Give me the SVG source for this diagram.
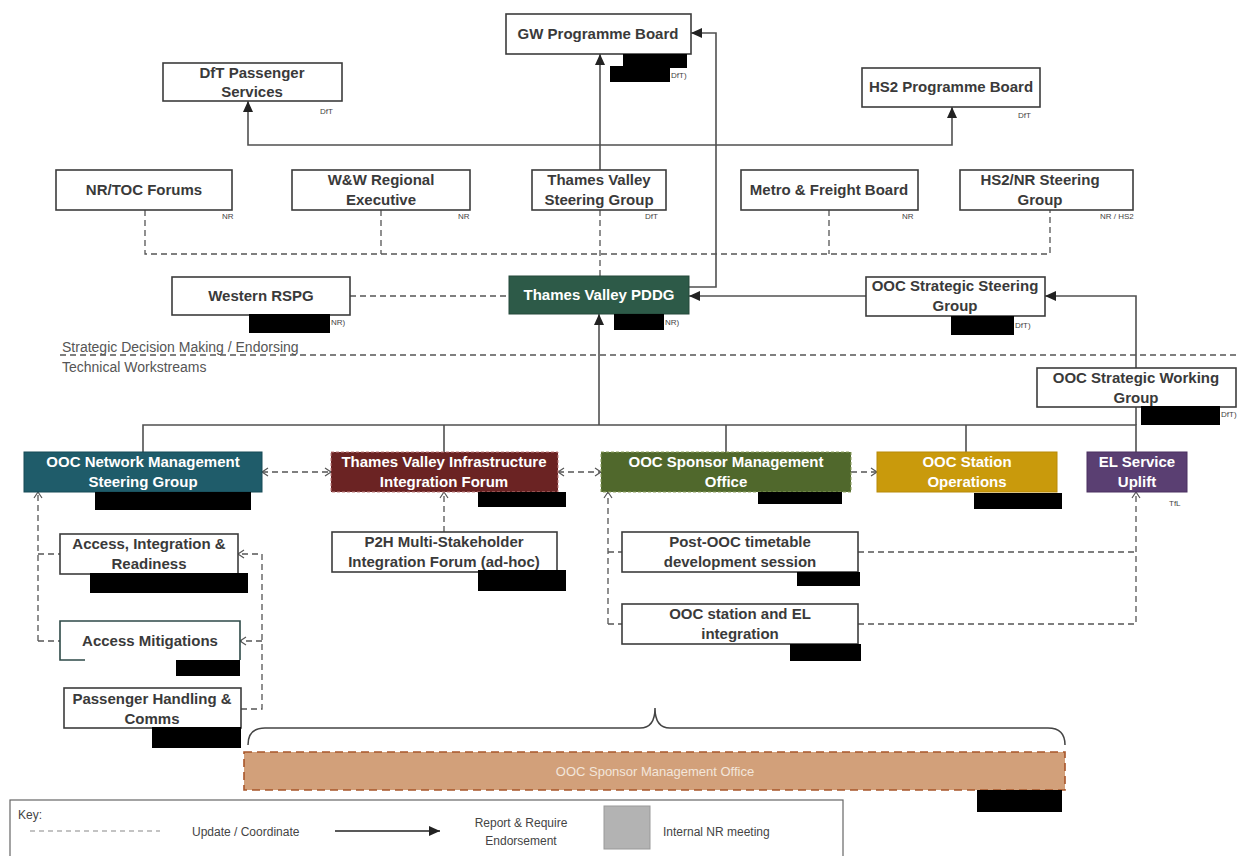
<svg xmlns="http://www.w3.org/2000/svg" width="1239" height="856" viewBox="0 0 1239 856">
<style>
.box{fill:#fff;stroke:#3c3c3c;stroke-width:1.6}
.t{font-family:"Liberation Sans",Arial,sans-serif;font-weight:bold;font-size:15px;fill:#3a3a3a;text-anchor:middle}
.tw{font-family:"Liberation Sans",Arial,sans-serif;font-weight:bold;font-size:15px;fill:#fff;text-anchor:middle}
.s{font-family:"Liberation Sans",Arial,sans-serif;font-size:8px;fill:#444}
.n{font-family:"Liberation Sans",Arial,sans-serif;font-size:14px;fill:#555}
.k{font-family:"Liberation Sans",Arial,sans-serif;font-size:12px;fill:#444}
.red{fill:#000}
.ln{fill:none;stroke:#505050;stroke-width:1.6}
.dl{fill:none;stroke:#555;stroke-width:1.3;stroke-dasharray:6,4}
</style>
<defs>
<marker id="arr" markerUnits="userSpaceOnUse" markerWidth="12" markerHeight="12" refX="11" refY="6" orient="auto">
<path d="M0,1 L11,6 L0,11 Z" fill="#222"/>
</marker>
<marker id="chev" markerUnits="userSpaceOnUse" markerWidth="10" markerHeight="10" refX="8" refY="5" orient="auto-start-reverse">
<path d="M2,1 L8,5 L2,9" fill="none" stroke="#555" stroke-width="1.2"/>
</marker>
</defs>

<g id="connectors">
<path class="ln" d="M600,170 V54" marker-end="url(#arr)"/>
<path class="ln" d="M689,287 H716 V33 H691" marker-end="url(#arr)"/>
<path class="ln" d="M600,145 H248 V101" marker-end="url(#arr)"/>
<path class="ln" d="M600,145 H952 V107" marker-end="url(#arr)"/>
<path class="dl" d="M145,210 V254 H1050 V210"/>
<path class="dl" d="M381,210 V254"/>
<path class="dl" d="M829,210 V254"/>
<path class="dl" d="M600,210 V276"/>
<path class="dl" d="M350,296 H509"/>
<path class="ln" d="M866,296 H689" marker-end="url(#arr)"/>
<path class="ln" d="M1136,368 V296 H1045" marker-end="url(#arr)"/>
<path class="ln" d="M599,425 V314" marker-end="url(#arr)"/>
<path class="ln" d="M143,452 V425 H1136 V452"/>
<path class="ln" d="M1136,407 V425"/>
<path class="ln" d="M444,425 V452"/>
<path class="ln" d="M726,425 V452"/>
<path class="ln" d="M966,425 V452"/>
<path class="dl" d="M262,472 H331" marker-start="url(#chev)" marker-end="url(#chev)"/>
<path class="dl" d="M558,472 H601" marker-start="url(#chev)" marker-end="url(#chev)"/>
<path class="dl" d="M851,472 H877" marker-end="url(#chev)"/>
<path class="dl" d="M38,641 V492" marker-end="url(#chev)"/>
<path class="dl" d="M38,554 H60"/>
<path class="dl" d="M38,641 H60"/>
<path class="dl" d="M241,709 H262 V554 H238" marker-end="url(#chev)"/>
<path class="dl" d="M262,641 H240" marker-end="url(#chev)"/>
<path class="dl" d="M444,532 V492" marker-end="url(#chev)"/>
<path class="dl" d="M608,624 V492" marker-end="url(#chev)"/>
<path class="dl" d="M608,552 H622"/>
<path class="dl" d="M608,624 H622"/>
<path class="dl" d="M858,552 H1136"/>
<path class="dl" d="M858,624 H1136 V492" marker-end="url(#chev)"/>
<path class="dl" d="M60,355 H1239"/>
<path d="M248,745 Q248,728 265,728 H640 Q655,728 655,708 Q655,728 670,728 H1048 Q1065,728 1065,745" fill="none" stroke="#444" stroke-width="1.5"/>
</g>

<g id="gw">
<rect class="box" x="506" y="14" width="185" height="40"/>
<text class="t" x="598" y="39">GW Programme Board</text>
<rect class="red" x="623" y="54" width="64" height="14"/>
<rect class="red" x="610" y="66" width="60" height="16"/>
<text class="s" x="671" y="78">DfT)</text>
</g>
<g id="dftps">
<rect class="box" x="163" y="63" width="179" height="38"/>
<text class="t" x="252" y="78">DfT Passenger</text>
<text class="t" x="252" y="97">Services</text>
<text class="s" x="320" y="114">DfT</text>
</g>
<g id="hs2pb">
<rect class="box" x="862" y="68" width="178" height="39"/>
<text class="t" x="951" y="92">HS2 Programme Board</text>
<text class="s" x="1018" y="118">DfT</text>
</g>
<g id="nrtoc">
<rect class="box" x="56" y="170" width="176" height="40"/>
<text class="t" x="144" y="195">NR/TOC Forums</text>
<text class="s" x="222" y="219">NR</text>
</g>
<g id="ww">
<rect class="box" x="292" y="170" width="178" height="40"/>
<text class="t" x="381" y="185">W&amp;W Regional</text>
<text class="t" x="381" y="205">Executive</text>
<text class="s" x="458" y="219">NR</text>
</g>
<g id="tvsg">
<rect class="box" x="532" y="170" width="134" height="40"/>
<text class="t" x="599" y="185">Thames Valley</text>
<text class="t" x="599" y="205">Steering Group</text>
<text class="s" x="645" y="219">DfT</text>
</g>
<g id="mfb">
<rect class="box" x="741" y="170" width="177" height="40"/>
<text class="t" x="829" y="195">Metro &amp; Freight Board</text>
<text class="s" x="902" y="219">NR</text>
</g>
<g id="hs2nr">
<rect class="box" x="960" y="170" width="173" height="40"/>
<text class="t" x="1040" y="185">HS2/NR Steering</text>
<text class="t" x="1040" y="205">Group</text>
<text class="s" x="1100" y="219">NR / HS2</text>
</g>
<g id="wrspg">
<rect class="box" x="172" y="277" width="178" height="38"/>
<text class="t" x="261" y="301">Western RSPG</text>
<rect class="red" x="249" y="314" width="81" height="19"/>
<text class="s" x="331" y="325">NR)</text>
</g>
<g id="pddg">
<rect x="509" y="276" width="180" height="38" fill="#2d5a48" stroke="#24483a" stroke-width="1"/>
<text class="tw" x="599" y="300">Thames Valley PDDG</text>
<rect class="red" x="614" y="314" width="50" height="16"/>
<text class="s" x="665" y="325">NR)</text>
</g>
<g id="ssg">
<rect class="box" x="866" y="277" width="179" height="39"/>
<text class="t" x="955" y="291">OOC Strategic Steering</text>
<text class="t" x="955" y="311">Group</text>
<rect class="red" x="951" y="316" width="63" height="19"/>
<text class="s" x="1015" y="328">DfT)</text>
</g>
<g id="sections">
<text class="n" x="62" y="352">Strategic Decision Making / Endorsing</text>
<text class="n" x="62" y="372">Technical Workstreams</text>
</g>
<g id="swg">
<rect class="box" x="1037" y="368" width="199" height="39"/>
<text class="t" x="1136" y="383">OOC Strategic Working</text>
<text class="t" x="1136" y="403">Group</text>
<rect class="red" x="1141" y="406" width="79" height="19"/>
<text class="s" x="1221" y="417">DfT)</text>
</g>
<g id="nmsg">
<rect x="24" y="452" width="238" height="40" fill="#1f5c6a" stroke="#174a56" stroke-width="1"/>
<text class="tw" x="143" y="467">OOC Network Management</text>
<text class="tw" x="143" y="487">Steering Group</text>
<rect class="red" x="95" y="492" width="156" height="18"/>
</g>
<g id="tviif">
<rect x="331" y="452" width="227" height="40" fill="#6b2323" stroke="#c08080" stroke-width="1" stroke-dasharray="3,2"/>
<text class="tw" x="444" y="467">Thames Valley Infrastructure</text>
<text class="tw" x="444" y="487">Integration Forum</text>
<rect class="red" x="478" y="492" width="88" height="15"/>
</g>
<g id="smo">
<rect x="601" y="452" width="250" height="40" fill="#50682c" stroke="#8da060" stroke-width="1" stroke-dasharray="3,2"/>
<text class="tw" x="726" y="467">OOC Sponsor Management</text>
<text class="tw" x="726" y="487">Office</text>
<rect class="red" x="758" y="492" width="84" height="12"/>
</g>
<g id="sto">
<rect x="877" y="452" width="180" height="40" fill="#c99a0c" stroke="#b88a08" stroke-width="1"/>
<text class="tw" x="967" y="467" fill="#f4ecd0">OOC Station</text>
<text class="tw" x="967" y="487">Operations</text>
<rect class="red" x="974" y="493" width="88" height="16"/>
</g>
<g id="el">
<rect x="1087" y="452" width="100" height="40" fill="#5a3f72" stroke="#4a3060" stroke-width="1"/>
<text class="tw" x="1137" y="467">EL Service</text>
<text class="tw" x="1137" y="487">Uplift</text>
<text class="s" x="1169" y="506">TfL</text>
</g>
<g id="air">
<rect class="box" x="60" y="534" width="178" height="40" stroke="#2e4a48"/>
<text class="t" x="149" y="549">Access, Integration &amp;</text>
<text class="t" x="149" y="569">Readiness</text>
<rect class="red" x="90" y="573" width="158" height="20"/>
</g>
<g id="am">
<path d="M85,660 H60 V621 H240 V660" fill="#fff" stroke="#2e4a48" stroke-width="1.6"/>
<text class="t" x="150" y="646">Access Mitigations</text>
<rect class="red" x="176" y="660" width="64" height="16"/>
</g>
<g id="phc">
<rect class="box" x="64" y="688" width="177" height="40" stroke="#2e4a48"/>
<text class="t" x="152" y="704">Passenger Handling &amp;</text>
<text class="t" x="152" y="724">Comms</text>
<rect class="red" x="152" y="727" width="89" height="21"/>
</g>
<g id="p2h">
<rect class="box" x="332" y="532" width="225" height="40" stroke="#4a2a2a"/>
<text class="t" x="444" y="547">P2H Multi-Stakeholder</text>
<text class="t" x="444" y="567">Integration Forum (ad-hoc)</text>
<rect class="red" x="478" y="570" width="88" height="21"/>
</g>
<g id="postooc">
<rect class="box" x="622" y="532" width="236" height="40" stroke="#3a4a2a"/>
<text class="t" x="740" y="547">Post-OOC timetable</text>
<text class="t" x="740" y="567">development session</text>
<rect class="red" x="797" y="572" width="63" height="14"/>
</g>
<g id="oocel">
<rect class="box" x="622" y="604" width="236" height="40" stroke="#3a4a2a"/>
<text class="t" x="740" y="619">OOC station and EL</text>
<text class="t" x="740" y="639">integration</text>
<rect class="red" x="790" y="644" width="71" height="17"/>
</g>
<g id="smobar">
<rect x="244" y="752" width="821" height="38" fill="#d2a07a" stroke="#a8552a" stroke-width="1.6" stroke-dasharray="8,5"/>
<text x="655" y="776" font-family="Liberation Sans, Arial, sans-serif" font-size="13" fill="#f3e6da" text-anchor="middle">OOC Sponsor Management Office</text>
<rect class="red" x="977" y="790" width="85" height="22"/>
</g>
<g id="key">
<rect x="10" y="800" width="833" height="60" fill="#fff" stroke="#666" stroke-width="1.2"/>
<text class="k" x="18" y="819">Key:</text>
<path d="M30,831 H160" fill="none" stroke="#888" stroke-width="1.2" stroke-dasharray="5,4"/>
<text class="k" x="192" y="836">Update / Coordinate</text>
<path d="M335,831 H440" fill="none" stroke="#222" stroke-width="1.4" marker-end="url(#arr)"/>
<text class="k" x="521" y="827" text-anchor="middle">Report &amp; Require</text>
<text class="k" x="521" y="845" text-anchor="middle">Endorsement</text>
<rect x="604" y="806" width="46" height="43" fill="#b3b3b3" stroke="#999" stroke-width="1"/>
<text class="k" x="663" y="836">Internal NR meeting</text>
</g>
</svg>
